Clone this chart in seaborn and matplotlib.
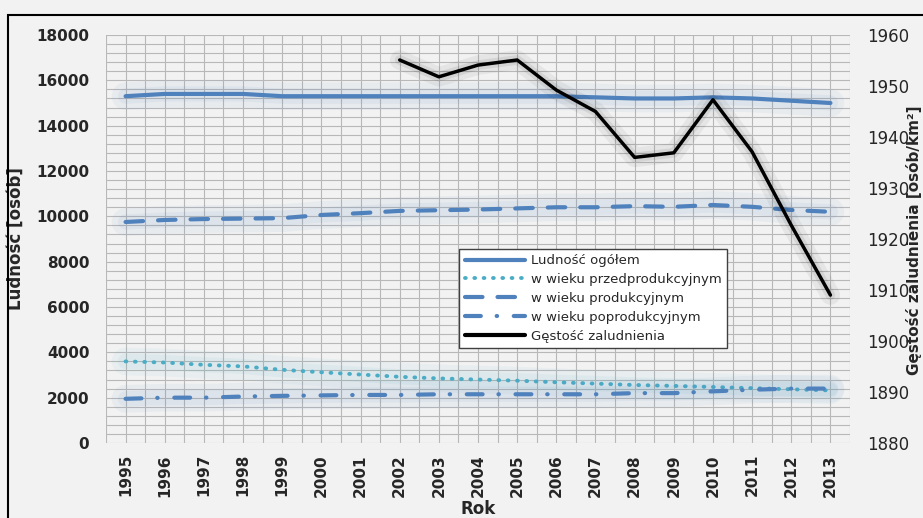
import numpy as np
import matplotlib
matplotlib.use("Agg")
import matplotlib.pyplot as plt
import pandas as pd
import seaborn as sns
from matplotlib.lines import Line2D
from matplotlib.patches import Rectangle

years = list(range(1995, 2014))
ogolem = [15300, 15400, 15400, 15400, 15300, 15300, 15300, 15300, 15300, 15300,
          15300, 15300, 15250, 15200, 15200, 15250, 15200, 15100, 15000]
przedprod = [3600, 3550, 3450, 3380, 3230, 3120, 3020, 2920, 2850, 2800,
             2750, 2680, 2620, 2560, 2520, 2470, 2420, 2370, 2320]
prod = [9750, 9840, 9880, 9900, 9920, 10060, 10140, 10240, 10270, 10300,
        10350, 10400, 10400, 10450, 10420, 10500, 10420, 10280, 10200]
poprod = [1950, 2000, 2000, 2050, 2080, 2100, 2120, 2120, 2150, 2150,
          2150, 2150, 2150, 2200, 2200, 2280, 2350, 2400, 2400]
gestosc_years = list(range(2002, 2014))
gestosc = [1955.1, 1951.8, 1954.1, 1955.1, 1949.2, 1945.0, 1936.0, 1936.9,
           1947.3, 1937.1, 1922.7, 1909.0]

blue = "#4f81bd"
teal = "#4bacc6"
bg = "#f2f2f2"

sns.set_theme(style="white")
plt.rcParams["font.family"] = ["DejaVu Sans"]

fig = plt.figure(figsize=(9.23, 5.18), dpi=100, facecolor=bg)
ax = fig.add_axes([106 / 923, 1 - 443 / 518, 744 / 923, 408 / 518])
ax.set_facecolor(bg)
ax2 = ax.twinx()

series = [
    (ogolem, blue, 3, (0, ()), "Ludność ogółem"),
    (przedprod, teal, 2.8, (0, (0.2, 2.2)), "w wieku przedprodukcyjnym"),
    (prod, blue, 3, (0, (4.2, 3.6)), "w wieku produkcyjnym"),
    (poprod, blue, 3, (0, (3.8, 3.8, 0.1, 4.0)), "w wieku poprodukcyjnym"),
]
handles = []
for vals, col, lw, ls, lab in series:
    # soft glow under each line
    sns.lineplot(x=years, y=vals, ax=ax, color=col, lw=20, alpha=0.06, legend=False)
    sns.lineplot(x=years, y=vals, ax=ax, color=col, lw=11, alpha=0.07, legend=False)
    sns.lineplot(x=years, y=vals, ax=ax, color=col, lw=lw, linestyle=ls, legend=False,
                 dash_capstyle="round")
    handles.append(Line2D([], [], color=col, lw=lw, linestyle=ls, label=lab,
                          dash_capstyle="round"))

sns.lineplot(x=gestosc_years, y=gestosc, ax=ax2, color="black", lw=14, alpha=0.05, legend=False)
sns.lineplot(x=gestosc_years, y=gestosc, ax=ax2, color="black", lw=7, alpha=0.07, legend=False)
sns.lineplot(x=gestosc_years, y=gestosc, ax=ax2, color="black", lw=2.5, legend=False)
handles.append(Line2D([], [], color="black", lw=3, label="Gęstość zaludnienia"))

ax.set_xlim(1994.5, 2013.5)
ax.set_ylim(0, 18000)
ax2.set_ylim(1880, 1960)

ax.set_xticks(years)
ax.set_xticklabels([str(y) for y in years], rotation=90, fontsize=11, fontweight="bold")
ax.set_xticks(np.arange(1994.5, 2014, 1), minor=True)
ax.set_yticks(np.arange(0, 18001, 2000))
ax.set_yticklabels([str(v) for v in range(0, 18001, 2000)], fontsize=11, fontweight="bold")
ax.set_yticks(np.arange(0, 18001, 400), minor=True)
ax2.set_yticks(np.arange(1880, 1961, 10))
ax2.tick_params(axis="y", labelsize=12, length=0, pad=12)
ax.tick_params(axis="both", which="both", length=0)
ax.tick_params(axis="y", pad=12)
ax.tick_params(axis="x", pad=8)

ax.grid(True, which="both", color="#b8b8b8", lw=0.8)
ax.set_axisbelow(True)
for a in (ax, ax2):
    for s in a.spines.values():
        s.set_visible(False)

ax.set_xlabel("Rok", fontsize=12, fontweight="bold", labelpad=2)
ax.set_ylabel("Ludność [osób]", fontsize=12, fontweight="bold", labelpad=8)
fig.text(914 / 923, 1 - 240 / 518, "Gęstość zaludnienia [osób/km²]", rotation=90,
         ha="center", va="center", fontsize=11, fontweight="bold")

leg = ax2.legend(handles=handles, loc="upper left", bbox_to_anchor=(0.466, 0.492),
                 fontsize=9.5, frameon=True, fancybox=False, handlelength=4.6,
                 borderpad=0.4, labelspacing=0.45, handletextpad=0.4)
leg.get_frame().set_edgecolor("#404040")
leg.get_frame().set_facecolor("white")
leg.get_frame().set_alpha(1)

fig.patches.append(Rectangle((8 / 923, -0.1), 1.1, 1 - 15 / 518 + 0.1,
                             transform=fig.transFigure, fill=False,
                             edgecolor="black", lw=1.5))

fig.savefig("out.png", dpi=100, facecolor=bg)
